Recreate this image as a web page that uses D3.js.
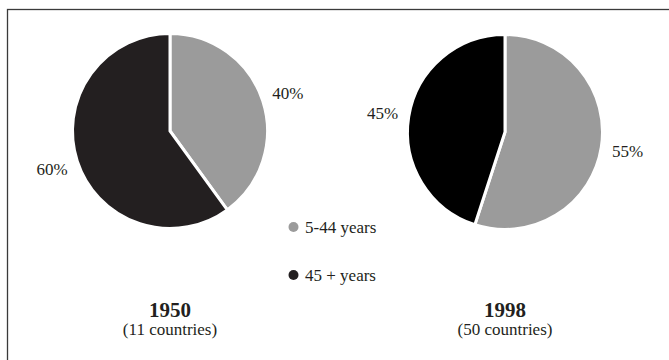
<!DOCTYPE html>
<html>
<head>
<meta charset="utf-8">
<script src="https://cdn.jsdelivr.net/npm/d3@7/dist/d3.min.js"></script>
<style>
  html, body { margin: 0; padding: 0; background: #fff; }
  svg { display: block; }
  text { font-family: "Liberation Serif", "Times New Roman", serif; fill: #231f20; }
</style>
</head>
<body>
<svg id="chart" width="669" height="360"></svg>
<script>
const categories = ["5-44 years", "45 + years"];
const years = ["1950", "1998"];
const subtitles = ["(11 countries)", "(50 countries)"];
const values1950 = [40, 60];
const values1998 = [55, 45];
const labelText = ["40%", "60%", "55%", "45%"];

const svg = d3.select("#chart");
svg.append("rect").attr("x", 7.5).attr("y", 9.5).attr("width", 680).attr("height", 380)
  .attr("fill", "none").attr("stroke", "#3a3a3a").attr("stroke-width", 1.3);

const grey = "#9b9b9b";
const colors = [
  [grey, "#231f20"],
  [grey, "#000000"]
];
const centers = [[170, 131], [505, 132]];
const radius = 97.5;

const pie = d3.pie().sort(null).value(d => d);
const arc = d3.arc().innerRadius(0).outerRadius(radius);
const labelArc = d3.arc().innerRadius(124).outerRadius(124);

[values1950, values1998].forEach((vals, i) => {
  const g = svg.append("g").attr("transform", `translate(${centers[i][0]},${centers[i][1]})`);
  const arcs = pie(vals);
  g.selectAll("path").data(arcs).enter().append("path")
    .attr("d", arc)
    .attr("fill", (d, j) => colors[i][j])
    .attr("stroke", "#fff").attr("stroke-width", 3).attr("stroke-linejoin", "miter");
  g.selectAll("text.lbl").data(arcs).enter().append("text")
    .attr("class", "lbl")
    .attr("transform", d => `translate(${labelArc.centroid(d)})`)
    .attr("text-anchor", "middle").attr("dy", "0.35em")
    .attr("font-size", 17)
    .text((d, j) => labelText[i * 2 + j]);
  svg.append("text").attr("x", centers[i][0]).attr("y", 317)
    .attr("text-anchor", "middle").attr("font-weight", "bold").attr("font-size", 21)
    .text(years[i]);
  svg.append("text").attr("x", centers[i][0]).attr("y", 335)
    .attr("text-anchor", "middle").attr("font-size", 17)
    .text(subtitles[i]);
});

const legendY = d3.scalePoint().domain(categories).range([227, 275]);
const legendColors = [grey, "#231f20"];
const lg = svg.append("g");
categories.forEach((c, j) => {
  lg.append("circle").attr("cx", 293.5).attr("cy", legendY(c)).attr("r", 5).attr("fill", legendColors[j]);
  lg.append("text").attr("x", 305).attr("y", legendY(c)).attr("dy", "0.33em")
    .attr("font-size", 17).text(c);
});
</script>
</body>
</html>
